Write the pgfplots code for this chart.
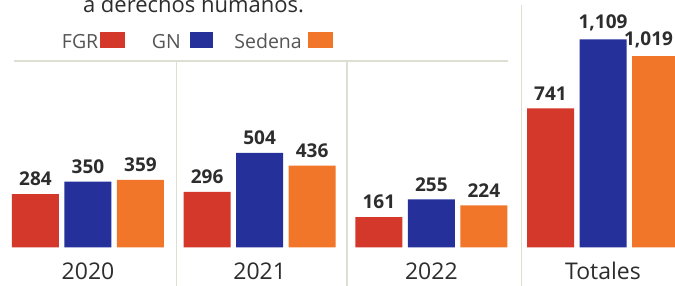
\documentclass[border=0pt]{standalone}
\usepackage{pgfplots}
\pgfplotsset{compat=1.18}
\usepackage{fontspec}
\setmainfont{Open Sans}
\definecolor{cfgr}{RGB}{212,56,42}
\definecolor{cgn}{RGB}{38,48,155}
\definecolor{csed}{RGB}{241,118,42}
\definecolor{txt}{RGB}{45,45,45}
\definecolor{lgtxt}{RGB}{85,85,85}
\definecolor{sep}{RGB}{222,222,210}
\begin{document}
\begin{tikzpicture}[x=1pt,y=1pt]
\fill[white] (0,0) rectangle (675,286);
\clip (0,0) rectangle (675,286);
% title (cut at top)
\node[anchor=base, font=\fontsize{22}{22}\selectfont, text=txt, inner sep=0pt] at (193.5,273.5) {a derechos humanos.};
% legend
\node[anchor=base east, font=\fontsize{19.5}{19.5}\selectfont, text=lgtxt, inner sep=0pt] at (98.5,237.7) {FGR};
\fill[cfgr] (100,237.7) rectangle (125,254.3);
\node[anchor=base east, font=\fontsize{19.5}{19.5}\selectfont, text=lgtxt, inner sep=0pt] at (181,237.7) {GN};
\fill[cgn] (190,237.7) rectangle (213,254.3);
\node[anchor=base east, font=\fontsize{19.5}{19.5}\selectfont, text=lgtxt, inner sep=0pt] at (302,237.7) {Sedena};
\fill[csed] (308,237.7) rectangle (333,254.3);
% separators
\draw[sep, line width=1.2pt] (14,225) -- (508,225);
\draw[sep, line width=1.2pt] (176.5,0) -- (176.5,225);
\draw[sep, line width=1.2pt] (347,0) -- (347,225);
\draw[sep, line width=1.5pt] (521.7,0) -- (521.7,281);
\begin{axis}[
  at={(0pt,38.7pt)}, anchor=south west,
  scale only axis, width=675pt, height=247.3pt,
  xmin=-0.5126, xmax=3.4194, ymin=0, ymax=1319,
  axis line style={draw=none},
  ytick=\empty,
  xtick={0,1,2,3},
  xticklabels={2020,2021,2022,Totales},
  major tick length=0pt,
  xticklabel style={anchor=base, yshift=-32.7pt, inner sep=0pt,
    font=\fontsize{23}{23}\selectfont, text=txt},
  ybar, bar width=47pt,
  nodes near coords,
  every node near coord/.append style={font=\bfseries\fontsize{19}{19}\selectfont,
    text=txt, anchor=south, inner sep=0pt, yshift=8pt},
  /pgf/number format/1000 sep={,},
  /pgf/number format/assume math mode=true,
  clip=false,
]
\addplot[fill=cfgr, draw=none, bar shift=-52.5pt] coordinates {(0,284) (1,296) (2,161) (3,741)};
\addplot[fill=cgn, draw=none, bar shift=0pt] coordinates {(0,350) (1,504) (2,255) (3,1109)};
\addplot[fill=csed, draw=none, bar shift=52.5pt,
  visualization depends on={rawx \as \myrawx},
  every node near coord/.append style={xshift={(\myrawx>2.5)*(-7)}}]
  coordinates {(0,359) (1,436) (2,224) (3,1019)};
\end{axis}
\end{tikzpicture}
\end{document}
